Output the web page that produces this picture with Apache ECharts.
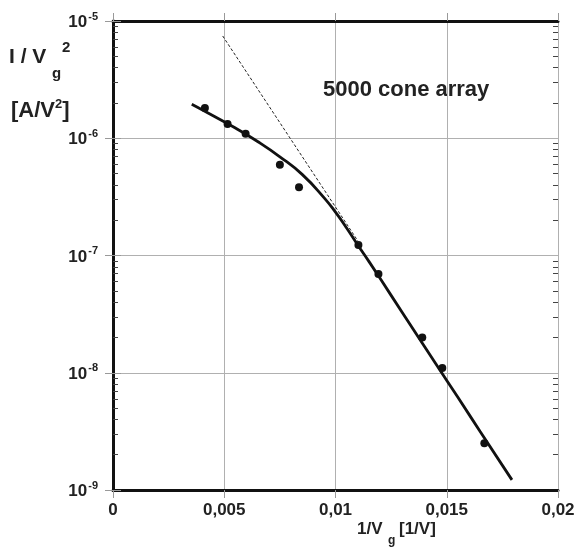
<!DOCTYPE html>
<html>
<head>
<meta charset="utf-8">
<script src="https://cdn.jsdelivr.net/npm/echarts@6/dist/echarts.min.js"></script>
<style>
  html, body { margin: 0; padding: 0; background: #fff; }
  #chart { width: 580px; height: 554px; }
</style>
</head>
<body>
<div id="chart"></div>
<script>
// measured points
const pointsX = [0.00413, 0.00515, 0.00596, 0.0075, 0.00836, 0.01103, 0.01193, 0.0139, 0.0148, 0.01669];
const pointsY = [1.81e-6, 1.32e-6, 1.09e-6, 5.95e-7, 3.82e-7, 1.23e-7, 6.95e-8, 2.0e-8, 1.10e-8, 2.50e-9];
// fitted curve
const fitX = [0.00354, 0.0045, 0.0055, 0.0065, 0.0075, 0.0085, 0.0095, 0.010, 0.0105, 0.011, 0.0115, 0.0125, 0.0135, 0.0145, 0.0155, 0.0165, 0.01793];
const fitY = [1.95e-6, 1.556e-6, 1.222e-6, 9.38e-7, 6.95e-7, 4.92e-7, 3.09e-7, 2.34e-7, 1.718e-7, 1.23e-7, 8.91e-8, 4.57e-8, 2.34e-8, 1.20e-8, 6.17e-9, 3.16e-9, 1.22e-9];
// asymptote (dashed)
const dashX = [0.00493, 0.0111];
const dashY = [7.45e-6, 1.25e-7];
// tick labels
const xTickLabels = ['0', '0,005', '0,01', '0,015', '0,02'];
const yDecades = [-9, -8, -7, -6, -5];

const FONT = '"Liberation Sans", Arial, sans-serif';
const TXT = '#222';

const zip = (a, b) => a.map((v, i) => [v, b[i]]);

// minor tick positions (log10 of 2..9 within each decade)
let minorTicks = [];
for (let d = yDecades[0]; d < yDecades[yDecades.length - 1]; d++) {
  for (let k = 2; k <= 9; k++) minorTicks.push(d + Math.log10(k));
}

const myChart = echarts.init(document.getElementById('chart'));

const axisLine = { show: true, lineStyle: { color: '#111', width: 3 } };
const majorTick = { show: true, inside: false, length: 8, lineStyle: { color: '#999', width: 1 } };

const minorAxis = (pos) => ({
  type: 'value', position: pos, min: -9, max: -5,
  axisLine: { show: false },
  axisTick: { show: true, inside: true, length: 5, customValues: minorTicks, lineStyle: { color: '#444', width: 1 } },
  axisLabel: { show: false },
  splitLine: { show: false }
});

const option = {
  backgroundColor: '#fff',
  animation: false,
  grid: { left: 113, right: 22, top: 21, bottom: 64 },
  xAxis: [{
    type: 'value', position: 'bottom', min: 0, max: 0.02, interval: 0.005,
    axisLine: axisLine,
    axisTick: majorTick,
    axisLabel: {
      margin: 12, color: TXT, fontFamily: FONT, fontWeight: 'bold', fontSize: 17,
      formatter: (v) => xTickLabels[Math.round(v / 0.005)]
    },
    splitLine: { show: true, lineStyle: { color: '#b0b0b0', width: 1 } }
  }, {
    type: 'value', position: 'top', min: 0, max: 0.02, interval: 0.005,
    axisLine: axisLine,
    axisTick: majorTick,
    axisLabel: { show: false },
    splitLine: { show: false }
  }],
  yAxis: [{
    type: 'log', logBase: 10, position: 'left', min: 1e-9, max: 1e-5,
    axisLine: axisLine,
    axisTick: majorTick,
    axisLabel: {
      margin: 15, color: TXT, fontFamily: FONT, fontWeight: 'bold',
      formatter: (v) => '{b|10}{s|' + Math.round(Math.log10(v)) + '}',
      rich: {
        b: { fontSize: 17, fontWeight: 'bold', fontFamily: FONT, color: TXT, verticalAlign: 'bottom', lineHeight: 20 },
        s: { fontSize: 11, fontWeight: 'bold', fontFamily: FONT, color: TXT, verticalAlign: 'bottom', lineHeight: 20, padding: [0, 0, 9, 1] }
      }
    },
    splitLine: { show: true, lineStyle: { color: '#b0b0b0', width: 1 } }
  }, {
    type: 'log', logBase: 10, position: 'right', min: 1e-9, max: 1e-5,
    axisLine: axisLine,
    axisTick: majorTick,
    axisLabel: { show: false },
    splitLine: { show: false }
  }, minorAxis('left'), minorAxis('right')],
  graphic: [
    { type: 'text', left: 9, top: 47, style: { text: 'I / V', fontFamily: FONT, fontWeight: 'bold', fontSize: 21, fill: TXT } },
    { type: 'text', left: 52, top: 66, style: { text: 'g', fontFamily: FONT, fontWeight: 'bold', fontSize: 15, fill: TXT } },
    { type: 'text', left: 62, top: 40, style: { text: '2', fontFamily: FONT, fontWeight: 'bold', fontSize: 15, fill: TXT } },
    { type: 'text', left: 11, top: 98, style: {
      text: '{a|[A/V}{s|2}{a|]}',
      rich: {
        a: { fontFamily: FONT, fontWeight: 'bold', fontSize: 22, fill: TXT, color: TXT, verticalAlign: 'bottom', lineHeight: 26 },
        s: { fontFamily: FONT, fontWeight: 'bold', fontSize: 13, fill: TXT, color: TXT, verticalAlign: 'bottom', lineHeight: 26, padding: [0, 0, 11, 0] }
      }
    } },
    { type: 'text', left: 323, top: 79, style: { text: '5000 cone array', fontFamily: FONT, fontWeight: 'bold', fontSize: 22, fill: TXT } },
    { type: 'text', left: 357, top: 521, style: { text: '1/V', fontFamily: FONT, fontWeight: 'bold', fontSize: 17, fill: TXT } },
    { type: 'text', left: 388, top: 535, style: { text: 'g', fontFamily: FONT, fontWeight: 'bold', fontSize: 12, fill: TXT } },
    { type: 'text', left: 399, top: 521, style: { text: '[1/V]', fontFamily: FONT, fontWeight: 'bold', fontSize: 17, fill: TXT } }
  ],
  series: [{
    name: 'asymptote', type: 'line', xAxisIndex: 0, yAxisIndex: 0,
    data: zip(dashX, dashY), showSymbol: false, symbol: 'none',
    lineStyle: { color: '#222', width: 1, type: [3, 2] }
  }, {
    name: 'fit', type: 'line', xAxisIndex: 0, yAxisIndex: 0,
    data: zip(fitX, fitY), smooth: 0.5, showSymbol: false, symbol: 'none',
    lineStyle: { color: '#111', width: 2.8 }
  }, {
    name: 'data', type: 'scatter', xAxisIndex: 0, yAxisIndex: 0,
    data: zip(pointsX, pointsY), symbolSize: 8,
    itemStyle: { color: '#111', opacity: 1 }
  }]
};

myChart.setOption(option);
</script>
</body>
</html>
